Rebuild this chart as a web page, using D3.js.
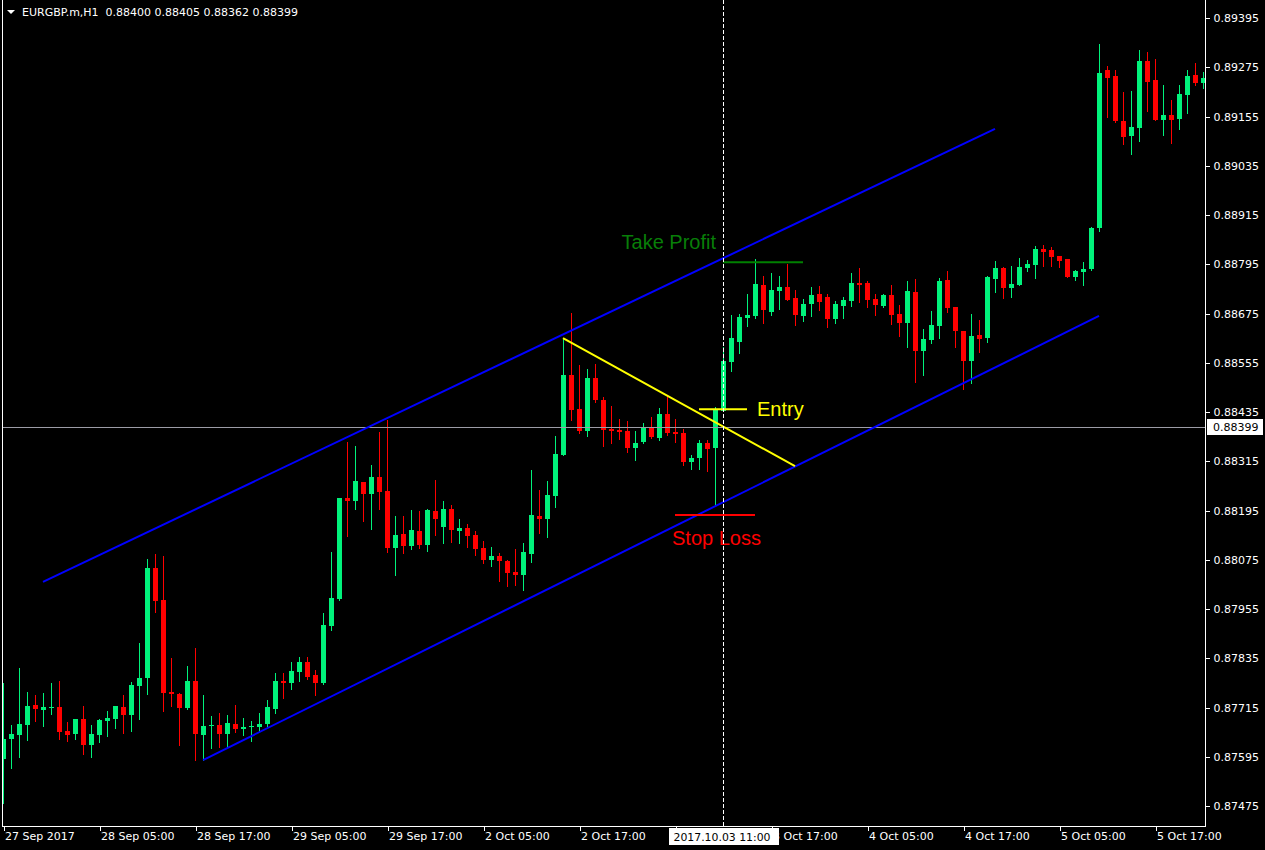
<!DOCTYPE html>
<html><head><meta charset="utf-8">
<script src="https://cdn.jsdelivr.net/npm/d3@7"></script>
<style>
html,body{margin:0;padding:0;background:#000;overflow:hidden;}
svg{display:block;}
</style></head>
<body>
<svg id="chart" width="1265" height="850"></svg>
<script>
// ---------- data ----------
const symbolTitle = "EURGBP.m,H1";
const headerValues = [0.88400, 0.88405, 0.88362, 0.88399];

const opens = [0.87590,0.87638,0.87648,0.87672,0.87721,0.87709,0.87714,0.87716,0.87658,0.87650,
0.87687,0.87624,0.87648,0.87682,0.87687,0.87716,0.87697,0.87767,0.87787,0.88055,
0.87977,0.87753,0.87748,0.87714,0.87780,0.87648,0.87670,0.87672,0.87650,0.87675,
0.87663,0.87668,0.87668,0.87675,0.87711,0.87780,0.87775,0.87801,0.87826,0.87794,
0.87775,0.87914,0.87979,0.88225,0.88218,0.88264,0.88235,0.88277,0.88242,0.88104,
0.88138,0.88108,0.88145,0.88111,0.88194,0.88155,0.88199,0.88145,0.88152,0.88135,
0.88104,0.88074,0.88084,0.88072,0.88045,0.88038,0.88089,0.88182,0.88174,0.88230,
0.88330,0.88525,0.88442,0.88389,0.88518,0.88464,0.88394,0.88391,0.88389,0.88347,
0.88362,0.88399,0.88372,0.88430,0.88386,0.88384,0.88313,0.88323,0.88360,0.88347,
0.88437,0.88557,0.88606,0.88664,0.88669,0.88744,0.88679,0.88730,0.88740,0.88713,
0.88669,0.88698,0.88722,0.88715,0.88662,0.88693,0.88706,0.88749,0.88749,0.88710,
0.88693,0.88720,0.88674,0.88652,0.88727,0.88584,0.88610,0.88645,0.88757,0.88691,
0.88632,0.88559,0.88623,0.88615,0.88759,0.88786,0.88737,0.88744,0.88786,0.88793,
0.88832,0.88830,0.88815,0.88808,0.88764,0.88776,0.88783,0.88883,0.89268,0.89254,
0.89144,0.89107,0.89127,0.89290,0.89244,0.89147,0.89159,0.89149,0.89207,0.89256,
0.89237];
const highs = [0.87775,0.87672,0.87811,0.87753,0.87746,0.87750,0.87775,0.87780,0.87680,0.87687,
0.87719,0.87672,0.87687,0.87707,0.87719,0.87746,0.87777,0.87872,0.88077,0.88089,
0.88084,0.87836,0.87750,0.87816,0.87860,0.87746,0.87694,0.87702,0.87697,0.87721,
0.87689,0.87682,0.87702,0.87733,0.87799,0.87799,0.87826,0.87838,0.87838,0.87806,
0.87945,0.88094,0.88225,0.88362,0.88352,0.88264,0.88306,0.88386,0.88415,0.88182,
0.88182,0.88196,0.88194,0.88199,0.88269,0.88218,0.88208,0.88174,0.88162,0.88145,
0.88121,0.88106,0.88091,0.88074,0.88101,0.88116,0.88294,0.88245,0.88267,0.88376,
0.88615,0.88676,0.88549,0.88540,0.88552,0.88472,0.88450,0.88418,0.88413,0.88389,
0.88408,0.88423,0.88445,0.88476,0.88418,0.88394,0.88330,0.88367,0.88367,0.88447,
0.88593,0.88671,0.88674,0.88722,0.88808,0.88766,0.88774,0.88766,0.88796,0.88732,
0.88710,0.88740,0.88742,0.88722,0.88706,0.88715,0.88774,0.88786,0.88754,0.88722,
0.88722,0.88744,0.88696,0.88754,0.88759,0.88637,0.88681,0.88761,0.88779,0.88691,
0.88632,0.88674,0.88659,0.88766,0.88803,0.88788,0.88791,0.88810,0.88805,0.88839,
0.88842,0.88837,0.88815,0.88808,0.88781,0.88800,0.88886,0.89332,0.89278,0.89268,
0.89215,0.89217,0.89317,0.89312,0.89295,0.89232,0.89195,0.89232,0.89268,0.89285,
0.89264];
const lows = [0.87482,0.87568,0.87594,0.87636,0.87682,0.87670,0.87699,0.87638,0.87633,0.87638,
0.87602,0.87594,0.87631,0.87646,0.87665,0.87653,0.87658,0.87687,0.87748,0.87948,
0.87707,0.87719,0.87624,0.87711,0.87587,0.87587,0.87616,0.87619,0.87619,0.87655,
0.87648,0.87633,0.87658,0.87670,0.87702,0.87738,0.87760,0.87780,0.87784,0.87746,
0.87772,0.87904,0.87977,0.88133,0.88199,0.88169,0.88150,0.88199,0.88094,0.88038,
0.88091,0.88101,0.88104,0.88096,0.88135,0.88116,0.88118,0.88116,0.88106,0.88087,
0.88067,0.88060,0.88023,0.88011,0.88013,0.88001,0.88069,0.88140,0.88130,0.88203,
0.88330,0.88415,0.88384,0.88376,0.88459,0.88352,0.88360,0.88369,0.88338,0.88318,
0.88360,0.88372,0.88367,0.88379,0.88362,0.88306,0.88296,0.88296,0.88291,0.88208,
0.88437,0.88535,0.88579,0.88645,0.88664,0.88652,0.88671,0.88686,0.88708,0.88647,
0.88657,0.88669,0.88684,0.88642,0.88652,0.88664,0.88693,0.88703,0.88691,0.88671,
0.88691,0.88649,0.88620,0.88593,0.88508,0.88525,0.88603,0.88615,0.88679,0.88593,
0.88491,0.88506,0.88581,0.88606,0.88727,0.88713,0.88715,0.88744,0.88779,0.88761,
0.88791,0.88791,0.88788,0.88764,0.88757,0.88744,0.88781,0.88876,0.89154,0.89142,
0.89088,0.89064,0.89095,0.89168,0.89146,0.89110,0.89090,0.89125,0.89164,0.89232,
0.89224];
const closes = [0.87638,0.87650,0.87675,0.87719,0.87711,0.87716,0.87716,0.87655,0.87648,0.87687,
0.87624,0.87650,0.87685,0.87689,0.87719,0.87697,0.87770,0.87787,0.88055,0.87975,
0.87750,0.87748,0.87714,0.87780,0.87650,0.87670,0.87672,0.87650,0.87677,0.87663,
0.87668,0.87670,0.87675,0.87716,0.87780,0.87775,0.87804,0.87826,0.87789,0.87775,
0.87916,0.87982,0.88225,0.88218,0.88267,0.88235,0.88277,0.88240,0.88104,0.88135,
0.88108,0.88147,0.88111,0.88196,0.88174,0.88199,0.88147,0.88152,0.88133,0.88101,
0.88074,0.88084,0.88072,0.88043,0.88038,0.88094,0.88184,0.88174,0.88233,0.88333,
0.88525,0.88440,0.88389,0.88518,0.88464,0.88391,0.88389,0.88386,0.88347,0.88360,
0.88399,0.88374,0.88430,0.88384,0.88381,0.88313,0.88323,0.88360,0.88345,0.88442,
0.88559,0.88615,0.88666,0.88671,0.88747,0.88684,0.88732,0.88740,0.88708,0.88671,
0.88698,0.88720,0.88703,0.88662,0.88698,0.88708,0.88749,0.88744,0.88708,0.88696,
0.88720,0.88671,0.88652,0.88730,0.88584,0.88613,0.88647,0.88754,0.88688,0.88632,
0.88559,0.88620,0.88613,0.88764,0.88786,0.88737,0.88747,0.88788,0.88796,0.88832,
0.88825,0.88813,0.88803,0.88764,0.88779,0.88783,0.88883,0.89261,0.89249,0.89144,
0.89105,0.89130,0.89290,0.89239,0.89146,0.89159,0.89147,0.89210,0.89254,0.89237,
0.89249];

const priceTicks = [0.89395,0.89275,0.89155,0.89035,0.88915,0.88795,0.88675,0.88555,
  0.88435,0.88315,0.88195,0.88075,0.87955,0.87835,0.87715,0.87595,0.87475];
const timeTickBars = [0,12,24,36,48,60,72,84,96,108,120,132,144];
const timeTickLabels = ["27 Sep 2017","28 Sep 05:00","28 Sep 17:00","29 Sep 05:00","29 Sep 17:00",
  "2 Oct 05:00","2 Oct 17:00","3 Oct 05:00","3 Oct 17:00","4 Oct 05:00","4 Oct 17:00",
  "5 Oct 05:00","5 Oct 17:00"];

const crosshairBar = 90;
const crosshairTimeLabel = "2017.10.03 11:00";
const crosshairPrice = 0.88399;

// trend lines: [bar, price] pairs
const channelUpper = [[5, 0.88021], [124, 0.89125]];
const channelLower = [[25, 0.87587], [137, 0.88669]];
const yellowTrend = [[70, 0.88615], [99, 0.88303]];
const takeProfit = [[90, 0.88800], [100, 0.88800]];
const entryLine = [[87, 0.88442], [93, 0.88442]];
const stopLoss = [[84, 0.88184], [94, 0.88184]];

// ---------- drawing ----------
const W = 1265, H = 850;
const plotLeft = 2, plotRight = 1205, plotBottom = 826;
const svg = d3.select("#chart");
svg.append("rect").attr("width", W).attr("height", H).attr("fill", "#000");

const x = d3.scaleLinear().domain([0, 150]).range([3, 1203]);
const y = d3.scaleLinear().domain([0.87475, 0.89395]).range([806, 18]);

const bull = "#00F27B", bear = "#FF0000";

svg.append("defs").append("clipPath").attr("id", "plotclip")
  .append("rect").attr("x", plotLeft + 1).attr("y", 0)
  .attr("width", plotRight - plotLeft - 1).attr("height", plotBottom);

const plot = svg.append("g").attr("clip-path", "url(#plotclip)");

const bars = d3.range(opens.length).map(i => ({
  i, o: opens[i], h: highs[i], l: lows[i], c: closes[i]
}));

// candles
const cg = plot.append("g").attr("shape-rendering", "crispEdges");
bars.forEach(b => {
  const cx = Math.round(x(b.i));
  const col = b.c >= b.o ? bull : bear;
  const yh = Math.round(y(b.h)), yl = Math.round(y(b.l));
  cg.append("rect").attr("x", cx).attr("y", yh).attr("width", 1)
    .attr("height", Math.max(1, yl - yh + 1)).attr("fill", col);
  const yt = Math.round(y(Math.max(b.o, b.c))), yb = Math.round(y(Math.min(b.o, b.c)));
  cg.append("rect").attr("x", cx - 2).attr("y", yt).attr("width", 5)
    .attr("height", Math.max(1, yb - yt)).attr("fill", col);
});

// crosshair horizontal (grey)
plot.append("line").attr("x1", 0).attr("x2", plotRight)
  .attr("y1", Math.round(y(crosshairPrice)) + 0.5).attr("y2", Math.round(y(crosshairPrice)) + 0.5)
  .attr("stroke", "#9c9ca6").attr("stroke-width", 1);

// trend lines
const line = d3.line().x(d => x(d[0])).y(d => y(d[1]));
function drawLine(data, color, width) {
  plot.append("path").datum(data).attr("d", line)
    .attr("fill", "none").attr("stroke", color).attr("stroke-width", width);
}
drawLine(channelUpper, "#0000FF", 2);
drawLine(channelLower, "#0000FF", 2);
drawLine(yellowTrend, "#FFFF00", 2);
drawLine(takeProfit, "#008000", 2);
drawLine(entryLine, "#FFFF00", 2);
drawLine(stopLoss, "#FF0000", 2);

// labels
const lblFont = "'Liberation Sans', Arial, sans-serif";
plot.append("text").text("Take Profit")
  .attr("x", x(takeProfit[0][0]) - 7).attr("y", y(takeProfit[0][1]) - 13)
  .attr("text-anchor", "end").attr("fill", "#087E08")
  .style("font-family", lblFont).style("font-size", "20px");
plot.append("text").text("Entry")
  .attr("x", x(entryLine[1][0]) + 10).attr("y", y(entryLine[0][1]) + 7)
  .attr("fill", "#FFFF00")
  .style("font-family", lblFont).style("font-size", "20px");
plot.append("text").text("Stop Loss")
  .attr("x", x(stopLoss[0][0]) - 3).attr("y", y(stopLoss[0][1]) + 30)
  .attr("fill", "#FF0000")
  .style("font-family", lblFont).style("font-size", "20px");

// crosshair vertical dashed
plot.append("line").attr("x1", Math.round(x(crosshairBar)) + 0.5).attr("x2", Math.round(x(crosshairBar)) + 0.5)
  .attr("y1", 0).attr("y2", plotBottom)
  .attr("stroke", "#ffffff").attr("stroke-width", 1).attr("stroke-dasharray", "4,2");

// frame
const frame = svg.append("g").attr("shape-rendering", "crispEdges").attr("stroke", "#fff").attr("stroke-width", 1);
frame.append("line").attr("x1", plotLeft + 0.5).attr("x2", plotLeft + 0.5).attr("y1", 0).attr("y2", plotBottom + 0.5);
frame.append("line").attr("x1", plotRight + 0.5).attr("x2", plotRight + 0.5).attr("y1", 0).attr("y2", plotBottom + 0.5);
frame.append("line").attr("x1", plotLeft).attr("x2", plotRight + 1).attr("y1", plotBottom + 0.5).attr("y2", plotBottom + 0.5);

const axFont = "'DejaVu Sans', Verdana, sans-serif";

// price axis
const yAxis = d3.axisRight(y).tickValues(priceTicks).tickFormat(d3.format(".5f"))
  .tickSize(4).tickPadding(4);
const yg = svg.append("g").attr("transform", `translate(${plotRight + 0.5},0)`).call(yAxis);
yg.select(".domain").remove();
yg.selectAll(".tick line").attr("stroke", "#fff").attr("shape-rendering", "crispEdges");
yg.selectAll(".tick text").attr("fill", "#fff")
  .style("font-family", axFont).style("font-size", "11px");

// crosshair time label box geometry (covers the time labels beneath it, as in the terminal)
const tlx = x(crosshairBar);
const boxX0 = Math.round(tlx) - 54, boxW = 110;

// time axis (a label that starts under the crosshair box is fully hidden, so it is left blank)
const xAxis = d3.axisBottom(x).tickValues(timeTickBars)
  .tickFormat((d, i) => {
    const sx = x(d);
    return (sx > boxX0 && sx < boxX0 + boxW - 12) ? "" : timeTickLabels[i];
  })
  .tickSize(4).tickPadding(2);
const xg = svg.append("g").attr("transform", `translate(0.5,${plotBottom + 0.5})`).call(xAxis);
xg.select(".domain").remove();
xg.selectAll(".tick line").attr("stroke", "#fff").attr("shape-rendering", "crispEdges");
xg.selectAll(".tick text").attr("fill", "#fff").attr("text-anchor", "start").attr("x", 1)
  .style("font-family", axFont).style("font-size", "11px");

// crosshair time label box
const tl = svg.append("g");
tl.append("rect").attr("x", boxX0).attr("y", 828)
  .attr("width", boxW).attr("height", 17).attr("fill", "#fff");
tl.append("text").text(crosshairTimeLabel)
  .attr("x", tlx - 1).attr("y", 841).attr("text-anchor", "middle").attr("fill", "#000")
  .style("font-family", axFont).style("font-size", "11px").attr("textLength", 97)
  .attr("lengthAdjust", "spacingAndGlyphs");

// crosshair price label box
const py = y(crosshairPrice);
svg.append("rect").attr("x", 1207).attr("y", Math.round(py) - 8).attr("width", 56).attr("height", 16)
  .attr("fill", "#fff");
svg.append("text").text(d3.format(".5f")(crosshairPrice))
  .attr("x", 1213).attr("y", py).attr("dy", "0.35em").attr("fill", "#000")
  .style("font-family", axFont).style("font-size", "11px");

// header
svg.append("path").attr("d", "M7,10 L15,10 L11,14 Z").attr("fill", "#fff");
svg.append("text")
  .text(symbolTitle + "  " + headerValues.map(d3.format(".5f")).join(" "))
  .attr("x", 22).attr("y", 16).attr("fill", "#fff")
  .attr("xml:space", "preserve").style("white-space", "pre")
  .style("font-family", axFont).style("font-size", "11px");
</script>
</body></html>
